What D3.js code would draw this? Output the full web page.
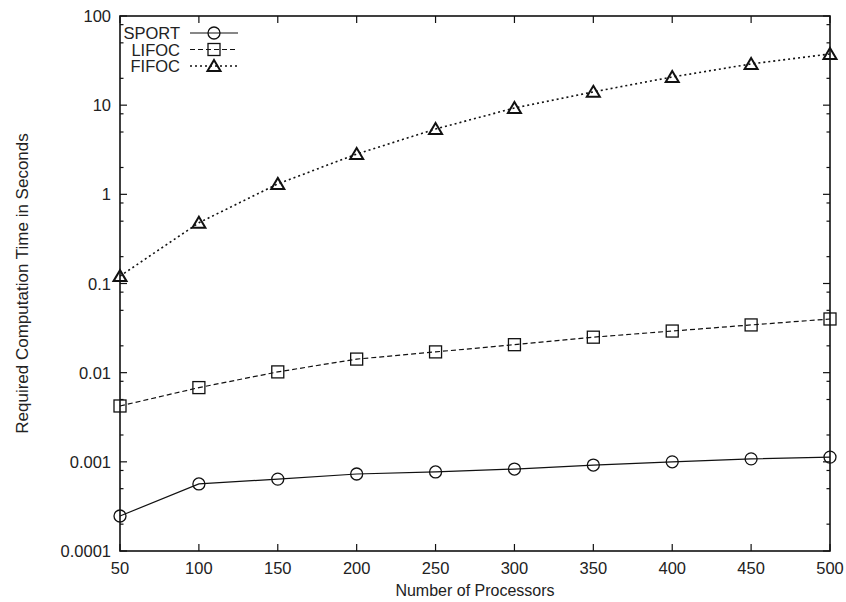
<!DOCTYPE html>
<html>
<head>
<meta charset="utf-8">
<script src="https://cdn.jsdelivr.net/npm/d3@7"></script>
<style>
body { margin: 0; background: #fff; }
text { font-family: "Liberation Sans", Arial, Helvetica, sans-serif; fill: #222; }
</style>
</head>
<body>
<div class="chart"></div>
<script>
var processors = [50, 100, 150, 200, 250, 300, 350, 400, 450, 500];
var sport = [0.000247, 0.000565, 0.00064, 0.00073, 0.00077, 0.00083, 0.00092, 0.001, 0.00108, 0.00113];
var lifoc = [0.00423, 0.0068, 0.0102, 0.0142, 0.0171, 0.0206, 0.025, 0.0293, 0.0343, 0.040];
var fifoc = [0.121, 0.48, 1.31, 2.83, 5.4, 9.3, 14.1, 20.7, 29, 37.5];
var yTicks = [0.0001, 0.001, 0.01, 0.1, 1, 10, 100];
var yTickLabels = ['0.0001', '0.001', '0.01', '0.1', '1', '10', '100'];

var width = 846;
var height = 602;
var margin = {top: 16, right: 16, bottom: 51, left: 120};

var svg = d3.select('.chart').append('svg')
	.attr('width', width)
	.attr('height', height)
	.attr('viewBox', `0 0 ${width} ${height}`);

var x = d3.scaleLinear().domain([50, 500]).range([margin.left, width - margin.right]);
var y = d3.scaleLog().domain([0.0001, 100]).range([height - margin.bottom, margin.top]);

// minor ticks at 2, 5, 8 of each decade
var minor = [];
yTicks.slice(0, -1).forEach(function(t) {
	[2, 5, 8].forEach(function(m) { minor.push(t * m); });
});

var x0 = x.range()[0], x1 = x.range()[1];
var y0 = y.range()[0], y1 = y.range()[1];

var ticks = svg.append('g').attr('stroke', '#111').attr('stroke-width', 1.2);

processors.forEach(function(p) {
	ticks.append('line').attr('x1', x(p)).attr('x2', x(p)).attr('y1', y0).attr('y2', y0 - 7);
	ticks.append('line').attr('x1', x(p)).attr('x2', x(p)).attr('y1', y1).attr('y2', y1 + 7);
});
yTicks.forEach(function(t) {
	ticks.append('line').attr('x1', x0).attr('x2', x0 + 7).attr('y1', y(t)).attr('y2', y(t));
	ticks.append('line').attr('x1', x1).attr('x2', x1 - 7).attr('y1', y(t)).attr('y2', y(t));
});
minor.forEach(function(t) {
	ticks.append('line').attr('x1', x0).attr('x2', x0 + 3.5).attr('y1', y(t)).attr('y2', y(t));
	ticks.append('line').attr('x1', x1).attr('x2', x1 - 3.5).attr('y1', y(t)).attr('y2', y(t));
});

svg.append('rect')
	.attr('x', x0).attr('y', y1)
	.attr('width', x1 - x0).attr('height', y0 - y1)
	.attr('fill', 'none').attr('stroke', '#111').attr('stroke-width', 1.6);

svg.selectAll('.xl').data(processors).enter().append('text')
	.attr('x', function(d) { return x(d); })
	.attr('y', y0 + 23)
	.attr('text-anchor', 'middle')
	.attr('font-size', 16.5)
	.text(function(d) { return d; });

svg.selectAll('.yl').data(yTicks).enter().append('text')
	.attr('x', x0 - 9)
	.attr('y', function(d) { return y(d) + 6; })
	.attr('text-anchor', 'end')
	.attr('font-size', 16.5)
	.text(function(d, i) { return yTickLabels[i]; });

svg.append('text')
	.attr('x', (x0 + x1) / 2)
	.attr('y', 596)
	.attr('text-anchor', 'middle')
	.attr('font-size', 16)
	.text('Number of Processors');

svg.append('text')
	.attr('transform', `translate(28,${(y0 + y1) / 2}) rotate(-90)`)
	.attr('text-anchor', 'middle')
	.attr('font-size', 17)
	.text('Required Computation Time in Seconds');

var series = [
	{name: 'SPORT', values: sport, dash: null, marker: 'circle'},
	{name: 'LIFOC', values: lifoc, dash: '5,3', marker: 'square'},
	{name: 'FIFOC', values: fifoc, dash: '2,3', marker: 'triangle'}
];

var line = d3.line()
	.x(function(d, i) { return x(processors[i]); })
	.y(function(d) { return y(d); });

function drawMarker(g, type, cx, cy) {
	if (type === 'circle') {
		g.append('circle').attr('cx', cx).attr('cy', cy).attr('r', 6);
	} else if (type === 'square') {
		g.append('rect').attr('x', cx - 6).attr('y', cy - 6).attr('width', 12).attr('height', 12);
	} else {
		g.append('path').attr('d', `M${cx},${cy - 6}L${cx + 6.5},${cy + 5}L${cx - 6.5},${cy + 5}Z`)
			.attr('stroke-width', 2);
	}
}

series.forEach(function(s, k) {
	svg.append('path')
		.datum(s.values)
		.attr('d', line)
		.attr('fill', 'none')
		.attr('stroke', '#111')
		.attr('stroke-width', s.marker === 'triangle' ? 1.6 : 1.2)
		.attr('stroke-dasharray', s.dash);

	var mg = svg.append('g').attr('fill', 'none').attr('stroke', '#111').attr('stroke-width', 1.3);
	s.values.forEach(function(v, i) {
		drawMarker(mg, s.marker, x(processors[i]), y(v));
	});

	// legend
	var ly = 33 + k * 16.5;
	svg.append('text')
		.attr('x', 180).attr('y', ly + 6)
		.attr('text-anchor', 'end')
		.attr('font-size', 16.5)
		.text(s.name);
	svg.append('line')
		.attr('x1', 190).attr('x2', 238).attr('y1', ly).attr('y2', ly)
		.attr('stroke', '#111')
		.attr('stroke-width', s.marker === 'triangle' ? 1.6 : 1.2)
		.attr('stroke-dasharray', s.dash);
	var lg = svg.append('g').attr('fill', 'none').attr('stroke', '#111').attr('stroke-width', 1.3);
	drawMarker(lg, s.marker, 214, ly);
});
</script>
</body>
</html>
